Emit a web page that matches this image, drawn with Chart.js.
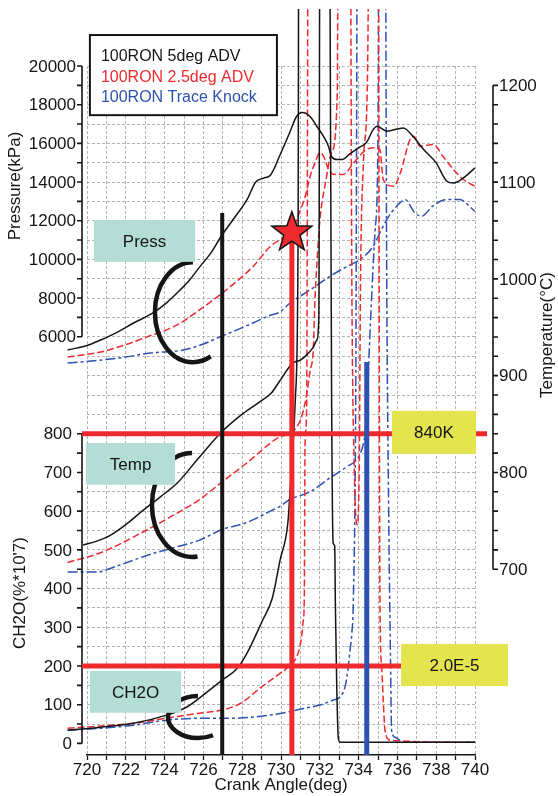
<!DOCTYPE html>
<html>
<head>
<meta charset="utf-8">
<script src="https://cdn.jsdelivr.net/npm/chart.js@4.4.1/dist/chart.umd.min.js"></script>
<style>
  html, body { margin: 0; padding: 0; background: #fff; }
</style>
</head>
<body>
<canvas id="chart" width="558" height="796"></canvas>
<script>
/* 100RON 5deg ADV (black) */
const blkPresDeg = [719.0, 720.0, 720.7, 721.5, 722.4, 723.4, 724.1, 724.8, 725.3, 725.8, 726.4, 726.9, 727.6, 728.25, 728.7, 729.1, 729.45, 729.95, 730.45, 730.8, 731.1, 731.5, 731.85, 732.2, 732.45, 732.6, 732.9, 733.15, 733.6, 734.0, 734.4, 734.75, 734.95, 735.45, 736.3, 736.8, 737.35, 738.0, 738.55, 738.9, 739.4, 740.0];
const blkPres = [5310, 5550, 5830, 6200, 6710, 7230, 7750, 8420, 8950, 9600, 10350, 11170, 12150, 13090, 14000, 14200, 14350, 15400, 16560, 17390, 17600, 17390, 16870, 16350, 15840, 15320, 15160, 15160, 15500, 15770, 16040, 16710, 16890, 16630, 16800, 16370, 15680, 14990, 14040, 13950, 14210, 14730];
const blkTempDeg = [719.8, 720.5, 721.2, 722.0, 722.9, 723.8, 724.65, 725.8, 726.95, 728.05, 729.05, 729.5, 729.95, 730.6, 731.0, 731.35, 731.65, 731.85, 731.95, 732.02, 740.0];
const blkTemp = [725, 729, 735, 746, 761, 775, 789, 816, 842, 861, 875, 882, 895, 913, 916, 922, 929, 937, 960, 1500, 1500];
const blkCh2oDeg = [719.0, 720.7, 722.4, 724.1, 725.15, 726.2, 726.95, 727.75, 728.25, 729.05, 729.55, 729.95, 730.35, 730.46, 730.75, 730.88, 730.93, 732.45, 732.53, 732.61, 732.69, 732.77, 732.8, 732.87, 732.95, 733.04, 740.0];
const blkCh2o = [34, 42, 52, 73, 94, 133, 163, 194, 233, 318, 375, 473, 568, 646, 900, 1300, 2500, 2500, 1900, 880, 517, 510, 370, 156, 16, 3, 3];

/* 100RON 2.5deg ADV (red) */
const redPresDeg = [719.0, 720.7, 721.9, 723.1, 724.65, 725.8, 726.85, 727.7, 728.55, 729.45, 729.95, 730.55, 730.9, 731.25, 731.5, 731.75, 732.0, 732.2, 732.45, 732.7, 733.2, 733.75, 734.4, 734.9, 735.1, 735.27, 735.8, 736.15, 736.65, 736.85, 737.15, 737.85, 738.35, 738.9, 739.4, 740.0];
const redPres = [4950, 5210, 5560, 5990, 6610, 7390, 8160, 8850, 9620, 10670, 11020, 11380, 12300, 13260, 14300, 14990, 15510, 15330, 14640, 14400, 14390, 14990, 15680, 15770, 15680, 14130, 13780, 14470, 16200, 16370, 15850, 15940, 15330, 14640, 14130, 13780];
const redTempDeg = [719.0, 720.7, 722.75, 724.65, 725.8, 726.95, 728.25, 729.95, 730.3, 731.0, 731.32, 731.5, 731.66, 731.75, 731.84, 732.0, 732.3, 732.6, 732.9, 732.97, 733.55, 733.65, 733.78, 733.92, 734.03, 734.1, 734.25, 734.45, 734.62, 740.0];
const redTemp = [707, 717, 737, 758, 772, 790, 810, 837, 839, 854, 880, 905, 926, 978, 1012, 1060, 1100, 1130, 1190, 1500, 1500, 1000, 800, 746, 800, 1000, 1120, 1200, 1500, 1500];
const redCh2oDeg = [719.0, 720.7, 722.4, 724.1, 725.8, 726.95, 727.9, 728.9, 729.95, 730.3, 730.88, 731.06, 731.15, 731.2, 731.24, 731.32, 731.42, 735.0, 735.1, 735.19, 735.27, 735.36, 735.62, 740.0];
const redCh2o = [39, 45, 52, 65, 78, 86, 103, 142, 181, 194, 233, 275, 318, 370, 775, 860, 2500, 2500, 370, 197, 112, 34, 8, 3];

/* 100RON Trace Knock (blue) */
const bluPresDeg = [719.0, 720.7, 722.0, 723.25, 724.95, 726.0, 726.85, 727.7, 728.55, 729.45, 729.95, 730.45, 731.5, 732.5, 733.4, 734.05, 734.75, 735.1, 735.45, 735.95, 736.4, 736.9, 737.25, 737.8, 738.5, 739.2, 740.0];
const bluPres = [4640, 4790, 4950, 5160, 5310, 5620, 5990, 6340, 6710, 7110, 7280, 7730, 8420, 9110, 9630, 9980, 10670, 11380, 12050, 12740, 13090, 12400, 12230, 12740, 13090, 13090, 12480];
const bluTempDeg = [719.0, 720.5, 721.5, 723.2, 724.6, 725.8, 726.95, 728.2, 729.45, 729.95, 730.45, 731.5, 732.5, 733.4, 734.0, 734.25, 734.33, 734.45, 734.6, 734.85, 735.0, 735.06, 740.0];
const bluTemp = [697, 697, 703, 715, 723, 730, 741, 748, 760, 765, 772, 780, 794, 806, 816, 830, 840, 880, 950, 1050, 1150, 1500, 1500];
const bluCh2oDeg = [719.0, 720.7, 722.4, 724.1, 725.8, 727.5, 729.4, 730.45, 731.15, 732.0, 732.7, 733.05, 733.3, 733.47, 733.56, 733.65, 733.73, 733.85, 733.97, 735.35, 735.45, 735.55, 735.65, 735.7, 735.88, 736.3, 740.0];
const bluCh2o = [34, 39, 47, 60, 65, 65, 73, 82, 90, 99, 112, 120, 146, 198, 241, 284, 370, 880, 2500, 2500, 1200, 600, 200, 34, 16, 3, 3];

/* tick labels */
const pressureTicks = [6000, 8000, 10000, 12000, 14000, 16000, 18000, 20000];
const ch2oTicks = [0, 100, 200, 300, 400, 500, 600, 700, 800];
const tempTicks = [700, 800, 900, 1000, 1100, 1200];
const legendLabels = ['100RON 5deg ADV', '100RON 2.5deg ADV', '100RON Trace Knock'];

const INK = '#151515';
const RED = '#ee2a2f';
const BLUE = '#2e52b2';
const GRID = '#b4b4b4';
const TEAL = '#b4ded5';
const YELLOW = '#e4e44f';
const FAMILY = 'Arial, "Liberation Sans", sans-serif';
const FONT = '17px ' + FAMILY;

Chart.defaults.font.family = FAMILY;
Chart.defaults.color = INK;

function series(xs, ys, axis, color, dash) {
    return {
        data: xs.map((x, i) => ({ x: x, y: ys[i] })),
        yAxisID: axis,
        borderColor: color,
        borderWidth: 1.5,
        borderDash: dash,
        pointRadius: 0,
        fill: false,
        cubicInterpolationMode: 'monotone',
        clip: { left: 20, top: 57, right: 0, bottom: 0 }
    };
}

const solid = [];
const dashed = [7, 3];
const dashDot = [10, 3, 3, 3];

function drawAxis(ctx, scale, labels, minor, ax, dir, textX) {
    const lo = labels[0], hi = labels[labels.length - 1];
    ctx.strokeStyle = INK;
    ctx.lineWidth = 1.6;
    ctx.setLineDash([]);
    ctx.beginPath();
    ctx.moveTo(ax, scale.getPixelForValue(lo));
    ctx.lineTo(ax, scale.getPixelForValue(hi));
    for (let v = lo; v <= hi + 1e-6; v += minor) {
        const y = scale.getPixelForValue(v);
        ctx.moveTo(ax, y);
        ctx.lineTo(ax + dir * 5, y);
    }
    ctx.stroke();
    ctx.fillStyle = INK;
    ctx.font = FONT;
    ctx.textBaseline = 'middle';
    ctx.textAlign = dir < 0 ? 'right' : 'left';
    labels.forEach(v => ctx.fillText(String(v), textX, scale.getPixelForValue(v) + 1));
}

function vText(ctx, s, cx, cy) {
    ctx.save();
    ctx.translate(cx, cy);
    ctx.rotate(-Math.PI / 2);
    ctx.textAlign = 'center';
    ctx.textBaseline = 'middle';
    ctx.fillText(s, 0, 0);
    ctx.restore();
}

function box(ctx, x1, y1, x2, y2, color, text) {
    ctx.fillStyle = color;
    ctx.fillRect(x1, y1, x2 - x1, y2 - y1);
    ctx.fillStyle = INK;
    ctx.font = FONT;
    ctx.textAlign = 'center';
    ctx.textBaseline = 'middle';
    ctx.fillText(text, (x1 + x2) / 2, (y1 + y2) / 2 + 1);
}

function bracket(ctx, cx, cy, rx, ry, endDeg) {
    ctx.strokeStyle = INK;
    ctx.lineWidth = 4.5;
    ctx.setLineDash([]);
    ctx.beginPath();
    ctx.ellipse(cx, cy, rx, ry, 0, -Math.PI / 2, endDeg * Math.PI / 180, true);
    ctx.stroke();
}

function line(ctx, x1, y1, x2, y2, color, w) {
    ctx.strokeStyle = color;
    ctx.lineWidth = w;
    ctx.setLineDash([]);
    ctx.lineCap = 'butt';
    ctx.beginPath();
    ctx.moveTo(x1, y1);
    ctx.lineTo(x2, y2);
    ctx.stroke();
}

function star(ctx, cx, cy, R, r) {
    ctx.beginPath();
    for (let i = 0; i < 10; i++) {
        const a = -Math.PI / 2 + i * Math.PI / 5;
        const rad = i % 2 ? r : R;
        ctx.lineTo(cx + rad * Math.cos(a), cy + rad * Math.sin(a));
    }
    ctx.closePath();
    ctx.fillStyle = RED;
    ctx.fill();
    ctx.strokeStyle = INK;
    ctx.lineWidth = 1.5;
    ctx.stroke();
}

const overlay = {
    id: 'overlay',
    afterDraw(chart) {
        const { ctx, chartArea: area, scales: { x, yC, yP, yT } } = chart;
        const X = v => x.getPixelForValue(v);
        const Y = v => yC.getPixelForValue(v);
        ctx.save();

        // axes
        const axL = area.left - 5, axR = area.right + 18;
        drawAxis(ctx, yP, pressureTicks, 1000, axL, -1, axL - 6);
        drawAxis(ctx, yC, ch2oTicks, 50, axL, -1, axL - 10);
        drawAxis(ctx, yT, tempTicks, 20, axR, 1, axR + 6);
        ctx.fillStyle = INK;
        ctx.font = FONT;
        vText(ctx, 'Pressure(kPa)', 15, 186);
        vText(ctx, "CH2O(%*10'7)", 20, 593);
        vText(ctx, 'Temperature(°C)', 547, 335);

        // brackets
        bracket(ctx, X(725.46), Y(1114), 38, 50, 62);
        bracket(ctx, X(725.41), Y(616), 40, 52, 82);
        bracket(ctx, X(725.72), Y(68), 30, 21, 60);

        // marker lines
        line(ctx, X(719.74), Y(800), X(740.62), Y(800), RED, 5);
        line(ctx, X(719.74), Y(200), X(736.19), Y(200), RED, 5);
        line(ctx, X(726.97), Y(1370), X(726.97), area.bottom, INK, 4);
        line(ctx, X(730.56), yP.getPixelForValue(11380), X(730.56), area.bottom, RED, 5);
        line(ctx, X(734.42), Y(985), X(734.42), area.bottom, BLUE, 5);

        // labels
        box(ctx, X(720.36), Y(1352), X(725.57), Y(1244), TEAL, 'Press');
        box(ctx, X(719.95), Y(776), X(724.54), Y(668), TEAL, 'Temp');
        box(ctx, X(720.15), Y(187), X(724.85), Y(79), TEAL, 'CH2O');
        box(ctx, X(735.72), Y(859), X(740.05), Y(748), YELLOW, '840K');
        box(ctx, X(736.19), Y(257), X(741.7), Y(148), YELLOW, '2.0E-5');

        star(ctx, X(730.56), yP.getPixelForValue(11380), 21, 8.5);

        // legend
        const lx1 = X(720.15), lx2 = X(729.79), ly1 = Y(1830), ly2 = Y(1623);
        ctx.fillStyle = '#fff';
        ctx.fillRect(lx1, ly1, lx2 - lx1, ly2 - ly1);
        ctx.strokeStyle = INK;
        ctx.lineWidth = 2;
        ctx.strokeRect(lx1, ly1, lx2 - lx1, ly2 - ly1);
        ctx.font = '16px ' + FAMILY;
        ctx.textAlign = 'left';
        ctx.textBaseline = 'middle';
        [INK, RED, BLUE].forEach((c, i) => {
            ctx.fillStyle = c;
            ctx.fillText(legendLabels[i], lx1 + 11, ly1 + 22 + i * 20.5);
        });
        ctx.restore();
    }
};

new Chart(document.getElementById('chart'), {
    type: 'line',
    data: {
        datasets: [
            series(blkPresDeg, blkPres, 'yP', INK, solid),
            series(blkTempDeg, blkTemp, 'yT', INK, solid),
            series(blkCh2oDeg, blkCh2o, 'yC', INK, solid),
            series(redPresDeg, redPres, 'yP', RED, dashed),
            series(redTempDeg, redTemp, 'yT', RED, dashed),
            series(redCh2oDeg, redCh2o, 'yC', RED, dashed),
            series(bluPresDeg, bluPres, 'yP', BLUE, dashDot),
            series(bluTempDeg, bluTemp, 'yT', BLUE, dashDot),
            series(bluCh2oDeg, bluCh2o, 'yC', BLUE, dashDot)
        ]
    },
    options: {
        responsive: false,
        animation: false,
        layout: { padding: { left: 87, right: 83, top: 66, bottom: 0 } },
        plugins: { legend: { display: false }, tooltip: { enabled: false } },
        scales: {
            x: {
                type: 'linear',
                min: 720,
                max: 740,
                afterFit: s => { s.height = 41; },
                ticks: {
                    stepSize: 1,
                    autoSkip: false,
                    maxRotation: 0,
                    padding: 0,
                    font: { size: 17 },
                    callback: v => (v % 2 === 0 ? String(v) : '')
                },
                grid: { color: GRID, lineWidth: 1, tickLength: 5, tickColor: INK, tickWidth: 1.3 },
                border: { display: true, color: INK, width: 1.6, dash: [3, 2] },
                title: { display: true, text: 'Crank Angle(deg)', font: { size: 17 }, padding: 0 }
            },
            yC: {
                position: 'left',
                min: -30,
                max: 1750,
                afterFit: s => { s.width = 0; },
                ticks: { display: false, stepSize: 50 },
                grid: {
                    drawTicks: false,
                    color: c => (c.tick && c.tick.value >= 0 ? GRID : 'rgba(0,0,0,0)')
                },
                border: { display: false, dash: [3, 2] }
            },
            yP: { display: false, min: -15630, max: 20000 },
            yT: { display: false, min: 508, max: 1220 }
        }
    },
    plugins: [overlay]
});
</script>
</body>
</html>
